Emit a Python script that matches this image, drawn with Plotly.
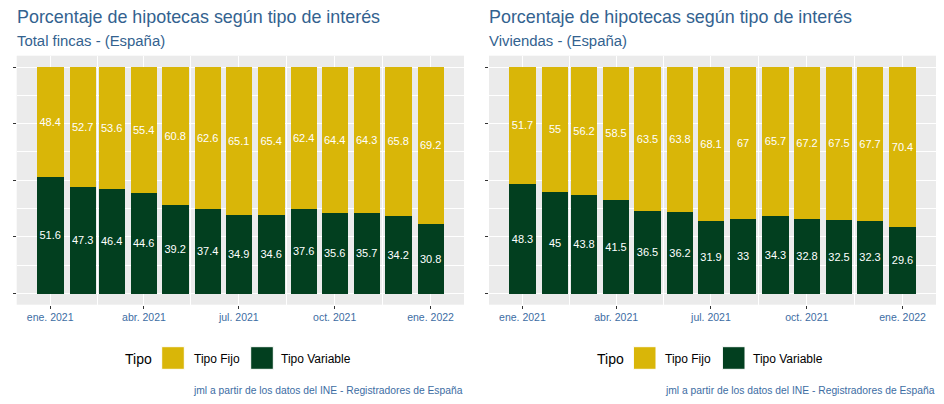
import plotly.graph_objects as go
import pandas as pd

months = pd.date_range("2021-01-01", "2022-01-01", freq="MS").strftime("%Y-%m-%d").tolist()

total_fijo = [48.4, 52.7, 53.6, 55.4, 60.8, 62.6, 65.1, 65.4, 62.4, 64.4, 64.3, 65.8, 69.2]
total_variable = [51.6, 47.3, 46.4, 44.6, 39.2, 37.4, 34.9, 34.6, 37.6, 35.6, 35.7, 34.2, 30.8]
viv_fijo = [51.7, 55, 56.2, 58.5, 63.5, 63.8, 68.1, 67, 65.7, 67.2, 67.5, 67.7, 70.4]
viv_variable = [48.3, 45, 43.8, 41.5, 36.5, 36.2, 31.9, 33, 34.3, 32.8, 32.5, 32.3, 29.6]

tick_vals = ["2021-01-01", "2021-04-01", "2021-07-01", "2021-10-01", "2022-01-01"]
tick_text = ["ene. 2021", "abr. 2021", "jul. 2021", "oct. 2021", "ene. 2022"]
minor_vals = ["2021-02-15", "2021-05-16", "2021-08-16", "2021-11-16"]

title = "Porcentaje de hipotecas según tipo de interés"
subtitles = ["Total fincas - (España)", "Viviendas - (España)"]
caption = "jml a partir de los datos del INE - Registradores de España"
legend_title = "Tipo"
series_names = ["Tipo Fijo", "Tipo Variable"]

C_FIJO = "#D9B608"
C_VAR = "#023F1F"
C_TITLE = "#33628F"
C_TICK = "#3D6DA3"
FONT = "Liberation Sans, Arial, sans-serif"

# the page body has an 8px margin; the figure is sized to fill the rest of the window
OFF = 8
W, H = 944 - OFF, 404 - OFF
BAR_W = 25.2 * 86400000  # ms

def px(x):
    return (x - OFF) / W

def py(y):
    return 1 - (y - OFF) / H

panels = [(16.7, 464.0), (489.0, 936.0)]
ptop, pbot = 55.7, 304.7

fig = go.Figure()
data_sets = [(total_variable, total_fijo), (viv_variable, viv_fijo)]
for i, (var, fijo) in enumerate(data_sets):
    xa = "x" if i == 0 else "x2"
    ya = "y" if i == 0 else "y2"
    fig.add_trace(go.Bar(
        x=months, y=var, name=series_names[1], marker=dict(color=C_VAR, line=dict(width=0)),
        width=BAR_W, text=[f"{v:g}" for v in var], textposition="inside",
        insidetextanchor="middle", textangle=0,
        textfont=dict(color="white", size=11, family=FONT),
        xaxis=xa, yaxis=ya, showlegend=False, hoverinfo="x+y"))
    fig.add_trace(go.Bar(
        x=months, y=fijo, name=series_names[0], marker=dict(color=C_FIJO, line=dict(width=0)),
        width=BAR_W, text=[f"{v:g}" for v in fijo], textposition="inside",
        insidetextanchor="middle", textangle=0,
        textfont=dict(color="white", size=11, family=FONT),
        xaxis=xa, yaxis=ya, showlegend=False, hoverinfo="x+y"))

xaxis_common = dict(
    type="date", range=["2020-11-29 21:36", "2022-02-02 02:24"],
    tickmode="array", tickvals=tick_vals, ticktext=tick_text,
    ticks="outside", ticklen=3, tickwidth=1, tickcolor="#333333",
    tickfont=dict(size=10.5, color=C_TICK, family=FONT),
    showgrid=True, gridcolor="white", gridwidth=1.1,
    minor=dict(tickmode="array", tickvals=minor_vals, showgrid=True, gridcolor="white", gridwidth=0.55, ticks=""),
    zeroline=False, showline=False, fixedrange=True,
)
yaxis_common = dict(
    range=[-5, 105], tickmode="array", tickvals=[0, 25, 50, 75, 100],
    showticklabels=False, ticks="outside", ticklen=3, tickwidth=1, tickcolor="#333333",
    showgrid=True, gridcolor="white", gridwidth=1.1,
    minor=dict(tickmode="array", tickvals=[12.5, 37.5, 62.5, 87.5], showgrid=True, gridcolor="white", gridwidth=0.55, ticks=""),
    zeroline=False, showline=False, fixedrange=True,
)

fig.update_layout(
    width=W, height=H, margin=dict(l=0, r=0, t=0, b=0),
    paper_bgcolor="white", plot_bgcolor="#EBEBEB",
    barmode="stack", bargap=0,
    font=dict(family=FONT),
    uniformtext=dict(minsize=11, mode="show"),
    xaxis=dict(domain=[px(panels[0][0]), px(panels[0][1])], anchor="y", **xaxis_common),
    yaxis=dict(domain=[py(pbot), py(ptop)], anchor="x", **yaxis_common),
    xaxis2=dict(domain=[px(panels[1][0]), px(panels[1][1])], anchor="y2", **xaxis_common),
    yaxis2=dict(domain=[py(pbot), py(ptop)], anchor="x2", **yaxis_common),
)

annotations = []
shapes = []
for i, (l, r) in enumerate(panels):
    annotations.append(dict(text=title, x=px(l - 2), y=py(17), xref="paper", yref="paper",
                            xanchor="left", yanchor="middle", showarrow=False,
                            font=dict(size=17.9, color=C_TITLE, family=FONT)))
    annotations.append(dict(text=subtitles[i], x=px(l - 2), y=py(41), xref="paper", yref="paper",
                            xanchor="left", yanchor="middle", showarrow=False,
                            font=dict(size=14.9, color=C_TITLE, family=FONT)))
    annotations.append(dict(text=caption, x=px(r + 1), y=py(390), xref="paper", yref="paper",
                            xanchor="right", yanchor="middle", showarrow=False,
                            font=dict(size=10.3, color=C_TICK, family=FONT)))
    off = 0 if i == 0 else 471.7
    # legend
    annotations.append(dict(text=legend_title, x=px(123 + off), y=py(359), xref="paper", yref="paper",
                            xanchor="left", yanchor="middle", showarrow=False,
                            font=dict(size=14, color="black", family=FONT)))
    for k, (x0, col, name, tx) in enumerate([(161.7, C_FIJO, series_names[0], 191.5),
                                              (250.7, C_VAR, series_names[1], 279.0)]):
        shapes.append(dict(type="rect", xref="paper", yref="paper",
                           x0=px(x0 + off), x1=px(x0 + 22.6 + off), y0=py(369.3), y1=py(346.7),
                           fillcolor=col, line=dict(color="white", width=1)))
        annotations.append(dict(text=name, x=px(tx + off), y=py(359), xref="paper", yref="paper",
                                xanchor="left", yanchor="middle", showarrow=False,
                                font=dict(size=12, color="black", family=FONT)))

fig.update_layout(annotations=annotations, shapes=shapes)
fig.write_html("out.html")
